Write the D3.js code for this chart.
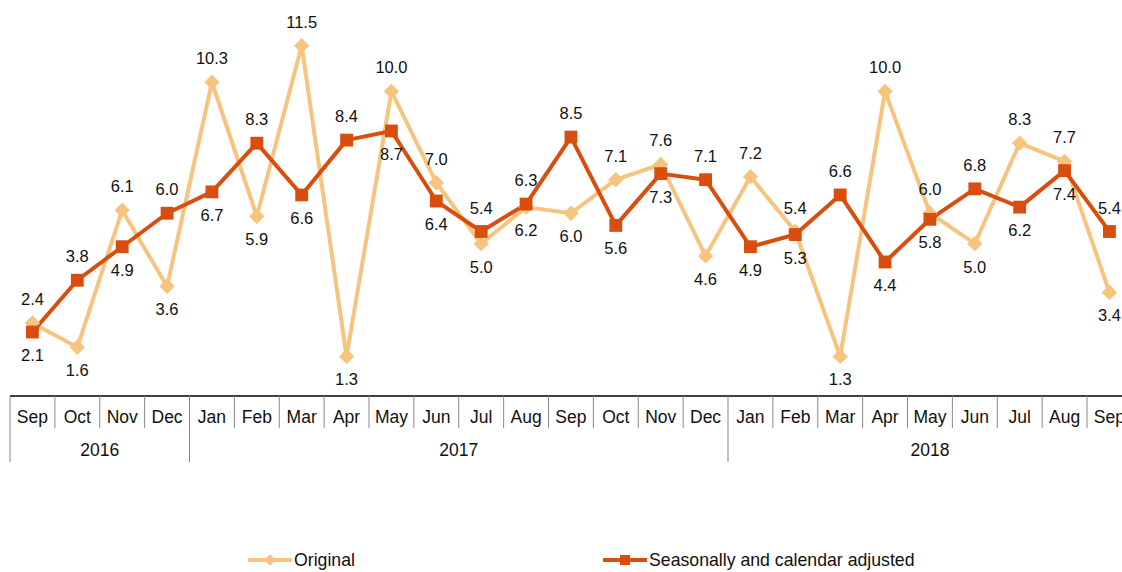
<!DOCTYPE html>
<html>
<head>
<meta charset="utf-8">
<script src="https://cdn.jsdelivr.net/npm/d3@7"></script>
<style>
  body { margin: 0; background: #fff; }
  svg text { font-family: "Liberation Sans", Arial, sans-serif; fill: #111; }
</style>
</head>
<body>
<div id="chart"></div>
<script>
var width = 1122,
    height = 572;

// months Sep 2016 .. Sep 2018
var months = ["Sep","Oct","Nov","Dec","Jan","Feb","Mar","Apr","May","Jun","Jul","Aug",
              "Sep","Oct","Nov","Dec","Jan","Feb","Mar","Apr","May","Jun","Jul","Aug","Sep"];
var years = ["2016", "2017", "2018"];
var yearCounts = [4, 12, 9];

var original = [2.4, 1.6, 6.1, 3.6, 10.3, 5.9, 11.5, 1.3, 10.0, 7.0, 5.0, 6.2, 6.0,
                7.1, 7.6, 4.6, 7.2, 5.4, 1.3, 10.0, 6.0, 5.0, 8.3, 7.7, 3.4];
var adjusted = [2.1, 3.8, 4.9, 6.0, 6.7, 8.3, 6.6, 8.4, 8.7, 6.4, 5.4, 6.3, 8.5,
                5.6, 7.3, 7.1, 4.9, 5.3, 6.6, 4.4, 5.8, 6.8, 6.2, 7.4, 5.4];

// which side the value label sits on (1 = above, -1 = below)
var originalSide = [1,-1,1,-1,1,-1,1,-1,1,1,-1,-1,-1,1,1,-1,1,1,-1,1,1,-1,1,1,-1];
var adjustedSide = [-1,1,-1,1,-1,1,-1,1,-1,-1,1,1,1,-1,-1,1,-1,-1,1,-1,-1,1,-1,-1,1];

var colOrig = "#f6c47f",
    colAdj = "#d84e0e";

var bandW = 44.875,
    left = 10,
    axisY = 396;

var svg = d3.select("#chart").append("svg")
    .attr("width", width)
    .attr("height", height);

var x = d3.scaleBand()
    .domain(d3.range(months.length))
    .range([left, left + bandW * months.length])
    .padding(0);

var y = d3.scaleLinear()
    .domain([0, 13])
    .range([axisY, 0]);

function cx(i) { return x(i) + x.bandwidth() / 2; }

var line = d3.line()
    .x(function(d, i) { return cx(i); })
    .y(function(d) { return y(d); });

var g = svg.append("g");

// axis line
g.append("line")
    .attr("x1", left).attr("x2", width)
    .attr("y1", axisY).attr("y2", axisY)
    .attr("stroke", "#000").attr("stroke-width", 1.5);

// month ticks & labels
var yearStarts = [0];
yearCounts.forEach(function(c, i) { yearStarts.push(yearStarts[i] + c); });

d3.range(months.length + 1).forEach(function(i) {
  var isYear = yearStarts.indexOf(i) >= 0;
  var xx = left + bandW * i;
  if (xx > width) return;
  g.append("line")
      .attr("x1", xx).attr("x2", xx)
      .attr("y1", axisY).attr("y2", isYear ? 462 : 428)
      .attr("stroke", "#888").attr("stroke-width", 1);
});

g.selectAll("text.month")
    .data(months)
    .enter().append("text")
    .attr("class", "month")
    .attr("x", function(d, i) { return cx(i); })
    .attr("y", 423)
    .attr("text-anchor", "middle")
    .style("font-size", "17.5px")
    .text(function(d) { return d; });

g.selectAll("text.year")
    .data(years)
    .enter().append("text")
    .attr("class", "year")
    .attr("x", function(d, i) {
      var a = x(yearStarts[i]), b = x(yearStarts[i] + yearCounts[i] - 1) + bandW;
      return (a + b) / 2;
    })
    .attr("y", 456)
    .attr("text-anchor", "middle")
    .style("font-size", "17.5px")
    .text(function(d) { return d; });

// lines
g.append("path")
    .datum(original)
    .attr("d", line)
    .attr("fill", "none")
    .attr("stroke", colOrig)
    .attr("stroke-width", 4)
    .attr("stroke-linejoin", "round");

g.append("path")
    .datum(adjusted)
    .attr("d", line)
    .attr("fill", "none")
    .attr("stroke", colAdj)
    .attr("stroke-width", 4)
    .attr("stroke-linejoin", "round");

var diamond = d3.symbol().type(d3.symbolDiamond2 || d3.symbolSquare).size(150);
var square = d3.symbol().type(d3.symbolSquare).size(165);

g.selectAll("path.dorig")
    .data(original)
    .enter().append("path")
    .attr("class", "dorig")
    .attr("d", diamond)
    .attr("transform", function(d, i) {
      return "translate(" + cx(i) + "," + y(d) + ")" + (d3.symbolDiamond2 ? "" : "rotate(45)");
    })
    .attr("fill", colOrig);

g.selectAll("path.dadj")
    .data(adjusted)
    .enter().append("path")
    .attr("class", "dadj")
    .attr("d", square)
    .attr("transform", function(d, i) { return "translate(" + cx(i) + "," + y(d) + ")"; })
    .attr("fill", colAdj);

// value labels
function labels(data, side, cls) {
  g.selectAll("text." + cls)
      .data(data)
      .enter().append("text")
      .attr("class", cls)
      .attr("x", function(d, i) { return cx(i); })
      .attr("y", function(d, i) { return side[i] > 0 ? y(d) - 18 : y(d) + 29; })
      .attr("text-anchor", "middle")
      .style("font-size", "16.5px")
      .text(function(d) { return d.toFixed(1); });
}
labels(original, originalSide, "lorig");
labels(adjusted, adjustedSide, "ladj");

// legend
var legend = svg.append("g");
var items = [
  {name: "Original", color: colOrig, sym: diamond, x: 248, rot: !d3.symbolDiamond2},
  {name: "Seasonally and calendar adjusted", color: colAdj, sym: d3.symbol().type(d3.symbolSquare).size(100), x: 603, rot: false}
];
items.forEach(function(it) {
  legend.append("line")
      .attr("x1", it.x).attr("x2", it.x + 44)
      .attr("y1", 560).attr("y2", 560)
      .attr("stroke", it.color).attr("stroke-width", 4);
  legend.append("path")
      .attr("d", it.sym)
      .attr("transform", "translate(" + (it.x + 22) + ",560)" + (it.rot ? "rotate(45)" : "") + (it.name === "Original" ? "scale(0.75)" : ""))
      .attr("fill", it.color);
  legend.append("text")
      .attr("x", it.x + 46)
      .attr("y", 566)
      .style("font-size", "17.7px")
      .text(it.name);
});
</script>
</body>
</html>
